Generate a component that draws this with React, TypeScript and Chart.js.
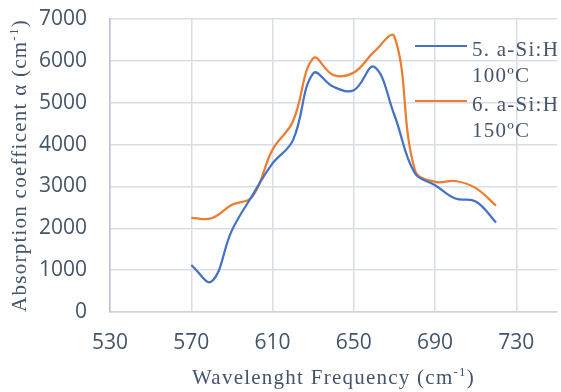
import React, { useEffect, useRef } from "react";
import { Chart, registerables } from "chart.js";

Chart.register(...registerables);

// ---- Data ----
const wavenumbers = [570, 580, 590, 600, 610, 620, 630, 640, 650, 660, 670, 680, 690, 700, 710, 720];
const alpha100C = [1120, 730, 1950, 2780, 3550, 4100, 5700, 5380, 5300, 5860, 4700, 3320, 3030, 2710, 2640, 2140];
const alpha150C = [2250, 2240, 2560, 2750, 3880, 4550, 6060, 5660, 5720, 6220, 6580, 3400, 3110, 3130, 2960, 2540];
const xTickValues = [530, 570, 610, 650, 690, 730];
const yTickValues = [0, 1000, 2000, 3000, 4000, 5000, 6000, 7000];
const seriesNames = [
  ["5. a-Si:H", "100ºC"],
  ["6. a-Si:H", "150ºC"],
];
const seriesColors = ["#4472C4", "#ED7D31"];
const xTitleParts = ["Wavelenght Frequency (cm", "-1", ")"];
const yTitleParts = ["Absorption coefficent α (cm", "-1", ")"];

const TEXT = "#44546A";
const SERIF = "'Liberation Serif', 'Times New Roman', serif";
const GRID = "#D9DDE6";

function drawTitle(ctx: CanvasRenderingContext2D, parts: string[], cx: number, baseY: number) {
  const big = `21px ${SERIF}`;
  const small = `13px ${SERIF}`;
  (ctx as any).letterSpacing = "1.25px";
  ctx.font = big;
  const w0 = ctx.measureText(parts[0]).width;
  const w2 = ctx.measureText(parts[2]).width;
  ctx.font = small;
  const w1 = ctx.measureText(parts[1]).width;
  const total = w0 + w1 + w2;
  let x = cx - total / 2;
  ctx.fillStyle = TEXT;
  ctx.textAlign = "left";
  ctx.textBaseline = "alphabetic";
  ctx.font = big;
  ctx.fillText(parts[0], x, baseY);
  x += w0;
  ctx.font = small;
  ctx.fillText(parts[1], x, baseY - 8);
  x += w1;
  ctx.font = big;
  ctx.fillText(parts[2], x, baseY);
}

const overlayPlugin = {
  id: "overlay",
  afterDraw(chart: any) {
    const ctx: CanvasRenderingContext2D = chart.ctx;
    const area = chart.chartArea;
    ctx.save();
    drawTitle(ctx, xTitleParts, (area.left + area.right) / 2, 384);
    ctx.save();
    ctx.translate(26, (area.top + area.bottom) / 2);
    ctx.rotate(-Math.PI / 2);
    drawTitle(ctx, yTitleParts, 0, 0);
    ctx.restore();

    const lx0 = area.right - 142;
    const lx1 = area.right - 90;
    const tx = area.right - 85;
    const startY = area.top + 27;
    const itemGap = 55;
    (ctx as any).letterSpacing = "1.25px";
    ctx.font = `21px ${SERIF}`;
    ctx.textAlign = "left";
    ctx.textBaseline = "alphabetic";
    seriesNames.forEach((lines, i) => {
      const y = startY + i * itemGap;
      ctx.strokeStyle = seriesColors[i];
      ctx.lineWidth = 2;
      ctx.beginPath();
      ctx.moveTo(lx0, y);
      ctx.lineTo(lx1, y);
      ctx.stroke();
      ctx.fillStyle = TEXT;
      lines.forEach((t, j) => {
        ctx.fillText(t, tx, y + 9.5 + j * 26.5);
      });
    });
    ctx.restore();
  },
};

export default function App() {
  const canvasRef = useRef<HTMLCanvasElement | null>(null);

  useEffect(() => {
    const canvas = canvasRef.current;
    if (!canvas) return;
    const chart = new Chart(canvas, {
      type: "line",
      data: {
        datasets: [
          {
            label: seriesNames[0].join(" "),
            data: wavenumbers.map((x, i) => ({ x, y: alpha100C[i] })),
            borderColor: seriesColors[0],
            backgroundColor: seriesColors[0],
            borderWidth: 2.25,
            pointRadius: 0,
            tension: 0.4,
            fill: false,
          },
          {
            label: seriesNames[1].join(" "),
            data: wavenumbers.map((x, i) => ({ x, y: alpha150C[i] })),
            borderColor: seriesColors[1],
            backgroundColor: seriesColors[1],
            borderWidth: 2.25,
            pointRadius: 0,
            tension: 0.4,
            fill: false,
          },
        ],
      },
      options: {
        animation: false,
        responsive: false,
        maintainAspectRatio: false,
        devicePixelRatio: 1,
        layout: { padding: { top: 19, right: 4, left: 0, bottom: 0 } },
        plugins: {
          legend: { display: false },
          tooltip: { enabled: false },
          title: { display: false },
        },
        scales: {
          x: {
            type: "linear",
            min: 530,
            max: 750,
            afterBuildTicks: (scale: any) => {
              scale.ticks = xTickValues.map((v) => ({ value: v }));
            },
            afterFit: (scale: any) => {
              scale.height = 80;
              scale.paddingLeft = 0;
              scale.paddingRight = 0;
            },
            grid: { color: GRID, lineWidth: 1.5, drawTicks: false },
            border: { color: "#CCD3DF", width: 1.5 },
            ticks: {
              color: TEXT,
              font: { family: "'Open Sans', sans-serif", size: 21 },
              padding: 18,
              maxRotation: 0,
              autoSkip: false,
              callback: (v: any) => String(v),
            },
          },
          y: {
            type: "linear",
            min: 0,
            max: 7000,
            afterBuildTicks: (scale: any) => {
              scale.ticks = yTickValues.map((v) => ({ value: v }));
            },
            afterFit: (scale: any) => {
              scale.width = 110;
              scale.paddingTop = 0;
              scale.paddingBottom = 0;
            },
            grid: { color: GRID, lineWidth: 1.5, drawTicks: false },
            border: { color: "#B9C4D6", width: 1.5 },
            ticks: {
              color: TEXT,
              font: { family: "'Open Sans', sans-serif", size: 21 },
              padding: 23,
              autoSkip: false,
              callback: (v: any) => String(v),
            },
          },
        },
      },
      plugins: [overlayPlugin],
    });
    return () => chart.destroy();
  }, []);

  return (
    <div style={{ position: "fixed", left: 0, top: 0, width: 561, height: 392, background: "#fff" }}>
      <canvas ref={canvasRef} width={561} height={392} style={{ display: "block", width: 561, height: 392 }} />
    </div>
  );
}
